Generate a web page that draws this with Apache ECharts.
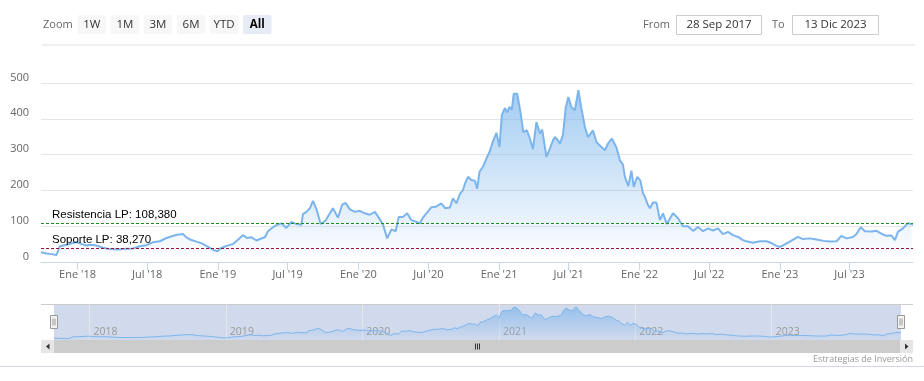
<!DOCTYPE html>
<html><head><meta charset="utf-8">
<script src="https://cdn.jsdelivr.net/npm/echarts@6/dist/echarts.min.js"></script>
<style>html,body{margin:0;padding:0;background:#fff}#c{width:924px;height:381px}</style>
</head><body><div id="c"></div>
<script>
// ---------- DATA ----------
const startDate = '2017-09-28';
const endDate = '2023-12-13';
const dates = ['2017-09-28','2017-10-12','2017-10-26','2017-11-07','2017-11-16','2017-12-03','2017-12-17','2017-12-29','2018-01-12','2018-01-24','2018-02-04','2018-02-19','2018-03-08','2018-03-26','2018-04-16','2018-05-06','2018-05-25','2018-06-12','2018-06-29','2018-07-16','2018-08-03','2018-08-20','2018-09-03','2018-09-16','2018-09-24','2018-10-02','2018-10-11','2018-10-22','2018-11-06','2018-11-20','2018-12-02','2018-12-13','2018-12-24','2019-01-01','2019-01-06','2019-01-23','2019-02-09','2019-02-22','2019-03-07','2019-03-17','2019-03-29','2019-04-11','2019-04-22','2019-05-03','2019-05-11','2019-05-24','2019-06-02','2019-06-15','2019-06-28','2019-07-11','2019-07-24','2019-08-06','2019-08-10','2019-08-19','2019-08-28','2019-09-05','2019-09-14','2019-09-25','2019-10-08','2019-10-19','2019-10-27','2019-11-09','2019-11-20','2019-11-29','2019-12-10','2019-12-23','2020-01-05','2020-01-18','2020-01-31','2020-02-13','2020-02-26','2020-03-05','2020-03-16','2020-03-27','2020-04-07','2020-04-15','2020-04-26','2020-05-07','2020-05-18','2020-05-31','2020-06-09','2020-06-17','2020-06-26','2020-07-09','2020-07-20','2020-08-04','2020-08-14','2020-08-26','2020-09-03','2020-09-12','2020-09-21','2020-09-29','2020-10-06','2020-10-12','2020-10-21','2020-10-30','2020-11-05','2020-11-11','2020-11-20','2020-11-29','2020-12-08','2020-12-16','2020-12-25','2021-01-02','2021-01-08','2021-01-16','2021-01-22','2021-01-28','2021-02-03','2021-02-08','2021-02-17','2021-02-26','2021-03-05','2021-03-14','2021-03-22','2021-03-30','2021-04-08','2021-04-17','2021-04-23','2021-05-04','2021-05-13','2021-05-21','2021-05-26','2021-06-03','2021-06-08','2021-06-16','2021-06-23','2021-06-30','2021-07-08','2021-07-17','2021-07-26','2021-08-03','2021-08-12','2021-08-20','2021-09-02','2021-09-11','2021-09-24','2021-10-03','2021-10-11','2021-10-21','2021-11-02','2021-11-11','2021-11-19','2021-11-24','2021-12-03','2021-12-11','2021-12-17','2021-12-26','2022-01-03','2022-01-10','2022-01-15','2022-01-23','2022-01-28','2022-02-05','2022-02-14','2022-02-23','2022-03-03','2022-03-13','2022-03-29','2022-04-11','2022-04-24','2022-05-07','2022-05-20','2022-06-02','2022-06-15','2022-06-28','2022-07-11','2022-07-24','2022-08-06','2022-08-19','2022-09-01','2022-09-14','2022-09-19','2022-09-27','2022-10-06','2022-10-23','2022-11-10','2022-11-27','2022-12-10','2022-12-23','2022-12-27','2023-01-01','2023-01-14','2023-01-31','2023-02-17','2023-03-02','2023-03-20','2023-04-06','2023-04-24','2023-05-11','2023-05-28','2023-06-10','2023-06-23','2023-07-10','2023-07-19','2023-07-30','2023-08-10','2023-08-27','2023-09-09','2023-09-22','2023-10-05','2023-10-18','2023-10-27','2023-11-04','2023-11-17','2023-11-29','2023-12-08','2023-12-13'];
const values = [27,24,22,19.5,44,48,52,56,50,46,48,46,40,36,35,37,38,44,47,55,58,67,72,76,77,78,69,62,57,52,45,38,32,30,37,45,50,62,75,67,69,60,65,69,86,97,103,108,95,112,106,104,134,140,150,171,148,106,116,136,150,124,160,165,147,140,143,136,132,140,119,105,66,91,86,126,126,136,117,112,108,124,136,153,154,164,150,152,178,164,190,201,224,238,229,227,205,252,266,289,310,337,361,321,410,430,418,433,425,470,470,415,363,368,345,315,391,359,370,294,317,340,349,340,330,355,430,461,433,424,480,428,377,349,368,335,321,312,331,345,320,284,272,238,212,255,210,238,228,192,182,159,150,166,166,117,136,106,136,122,100,100,87,98,86,94,88,94,78,84,75,70,66,61,58,54,58,58,53,45,43,42,49,60,70,64,66,63,59,57,58,73,66,70,78,97,86,85,87,79,73,74,61,85,94,108,106,105];

const xTickDates = ['2018-01-01','2018-07-01','2019-01-01','2019-07-01','2020-01-01','2020-07-01','2021-01-01','2021-07-01','2022-01-01','2022-07-01','2023-01-01','2023-07-01'];
const xTickLabels = ["Ene '18","Jul '18","Ene '19","Jul '19","Ene '20","Jul '20","Ene '21","Jul '21","Ene '22","Jul '22","Ene '23","Jul '23"];
const navYearDates = ['2018-01-01','2019-01-01','2020-01-01','2021-01-01','2022-01-01','2023-01-01'];
const navYearLabels = ['2018','2019','2020','2021','2022','2023'];
const yMin = 0, yMax = 500, yStep = 100;

const resistencia = 108.38, resistenciaLabel = 'Resistencia LP: 108,380';
const soporte = 38.27, soporteLabel = 'Soporte LP: 38,270';

const zoomLabel = 'Zoom';
const zoomButtons = ['1W','1M','3M','6M','YTD','All'];
const selectedButton = 'All';
const fromLabel = 'From', toLabel = 'To';
const fromText = '28 Sep 2017', toText = '13 Dic 2023';
const creditText = 'Estrategias de Inversión';

// ---------- CHART ----------
const P = (s) => Date.UTC(+s.slice(0, 4), +s.slice(5, 7) - 1, +s.slice(8, 10));
const xTickTs = xTickDates.map(P);
const navTs = navYearDates.map(P);
const seriesData = dates.map((d, i) => [P(d), values[i]]);
const lookup = (ts, labels) => (v) => {
  const i = ts.findIndex(t => Math.abs(t - v) < 43200000);
  return i >= 0 ? labels[i] : '';
};
const blue = '#7cb5ec';
const grad = () => new echarts.graphic.LinearGradient(0, 0, 0, 1, [
  {offset: 0, color: 'rgba(124,181,236,1)'},
  {offset: 1, color: 'rgba(124,181,236,0)'}
]);
const UI = '"Open Sans", sans-serif';

const graphics = [];
graphics.push({type:'text', x: 43, y: 25, style:{text: zoomLabel, fill:'#666', font:'11px ' + UI, align:'left', verticalAlign:'middle'}, silent:true});
zoomButtons.forEach((b, i) => {
  const x = 77.5 + i * 33.1;
  const sel = b === selectedButton;
  graphics.push({type:'rect', shape:{x: x, y: 15, width:28.5, height:19, r:2}, style:{fill: sel ? '#e6ebf5' : '#f7f7f7'}, silent:true});
  graphics.push({type:'text', x: x + 14.25, y: 24.5, style:{text: b, fill: sel ? '#000' : '#333', font: (sel ? 'bold ' : '') + '11.5px ' + UI, align:'center', verticalAlign:'middle'}, silent:true});
});
graphics.push({type:'line', shape:{x1:42, y1:45, x2:915, y2:45}, style:{stroke:'#f0f0f0', lineWidth:2}, silent:true});
graphics.push({type:'text', x: 643, y: 24.5, style:{text: fromLabel, fill:'#666', font:'11px ' + UI, align:'left', verticalAlign:'middle'}, silent:true});
graphics.push({type:'rect', shape:{x:676.5, y:15.5, width:85, height:19}, style:{fill:'#fff', stroke:'#cccccc', lineWidth:1}, silent:true});
graphics.push({type:'text', x: 719, y: 24.5, style:{text: fromText, fill:'#333', font:'11.5px ' + UI, align:'center', verticalAlign:'middle'}, silent:true});
graphics.push({type:'text', x: 772, y: 24.5, style:{text: toLabel, fill:'#666', font:'11px ' + UI, align:'left', verticalAlign:'middle'}, silent:true});
graphics.push({type:'rect', shape:{x:792.5, y:15.5, width:86, height:19}, style:{fill:'#fff', stroke:'#cccccc', lineWidth:1}, silent:true});
graphics.push({type:'text', x: 835.5, y: 24.5, style:{text: toText, fill:'#333', font:'11.5px ' + UI, align:'center', verticalAlign:'middle'}, silent:true});
graphics.push({type:'rect', z: -1, shape:{x:54, y:304, width:847, height:36}, style:{fill:'rgba(102,133,194,0.3)'}, silent:true});
graphics.push({type:'line', shape:{x1:41, y1:304.5, x2:913, y2:304.5}, style:{stroke:'#cccccc', lineWidth:1}, silent:true});
graphics.push({type:'rect', shape:{x:41, y:340, width:872, height:13}, style:{fill:'#f2f2f2'}, silent:true});
graphics.push({type:'rect', shape:{x:54, y:340, width:847, height:13}, style:{fill:'#cccccc'}, silent:true});
graphics.push({type:'rect', shape:{x:41, y:340, width:13, height:13}, style:{fill:'#e6e6e6'}, silent:true});
graphics.push({type:'rect', shape:{x:900, y:340, width:13, height:13}, style:{fill:'#e6e6e6'}, silent:true});
graphics.push({type:'polygon', shape:{points:[[49.5,343.5],[49.5,349.5],[46,346.5]]}, style:{fill:'#333'}, silent:true});
graphics.push({type:'polygon', shape:{points:[[905,343.5],[905,349.5],[908.5,346.5]]}, style:{fill:'#333'}, silent:true});
[475.5, 477.5, 479.5].forEach(x => graphics.push({type:'line', shape:{x1:x, y1:343.5, x2:x, y2:349.5}, style:{stroke:'#333', lineWidth:1}, silent:true}));
[54, 901].forEach(cx => {
  graphics.push({type:'rect', z: 10, shape:{x:cx - 3.5, y:315.5, width:7, height:13}, style:{fill:'#f2f2f2', stroke:'#999', lineWidth:1}, silent:true});
  [cx - 1, cx + 1].forEach(x => graphics.push({type:'line', z: 11, shape:{x1:x, y1:318.5, x2:x, y2:325.5}, style:{stroke:'#999', lineWidth:1}, silent:true}));
});
graphics.push({type:'text', x: 913, y: 359, style:{text: creditText, fill:'#999', font:'9px ' + UI, align:'right', verticalAlign:'middle'}, silent:true});
graphics.push({type:'line', shape:{x1:0, y1:366.5, x2:924, y2:366.5}, style:{stroke:'#d6d6e6', lineWidth:1}, silent:true});

const option = {
  animation: false,
  backgroundColor: '#fff',
  grid: [
    {left: 41, right: 11, top: 83, height: 179, containLabel: false},
    {left: 54, right: 23, top: 304, height: 36, containLabel: false}
  ],
  xAxis: [
    {gridIndex: 0, type: 'value', min: P(startDate), max: P(endDate),
     axisLine: {show: true, lineStyle: {color: '#ccd6eb', width: 1}},
     axisTick: {show: true, customValues: xTickTs, length: 8, lineStyle: {color: '#ccd6eb'}},
     axisLabel: {customValues: xTickTs, formatter: lookup(xTickTs, xTickLabels), color: '#666', fontSize: 11, fontFamily: UI, margin: 7, hideOverlap: false, showMinLabel: true, showMaxLabel: true},
     splitLine: {show: false}},
    {gridIndex: 1, type: 'value', min: P(startDate), max: P(endDate),
     axisLine: {show: false},
     axisTick: {show: false, customValues: navTs},
     axisLabel: {inside: true, customValues: navTs, formatter: lookup(navTs, navYearLabels), color: '#999', fontSize: 10.5, fontFamily: UI, align: 'left', padding: [0, 0, 0, 4], margin: 2, hideOverlap: false},
     splitLine: {show: true, lineStyle: {color: '#e6e6e6', width: 1}}}
  ],
  yAxis: [
    {gridIndex: 0, type: 'value', min: yMin, max: yMax, interval: yStep,
     axisLine: {show: false}, axisTick: {show: false},
     axisLabel: {color: '#666', fontSize: 11, fontFamily: UI, margin: 12, verticalAlign: 'bottom'},
     splitLine: {lineStyle: {color: '#e6e6e6'}}},
    {gridIndex: 1, type: 'value', min: 0, max: 520,
     axisLine: {show: false}, axisTick: {show: false}, axisLabel: {show: false}, splitLine: {show: false}}
  ],
  series: [
    {type: 'line', xAxisIndex: 0, yAxisIndex: 0, data: seriesData, showSymbol: false, symbol: 'none',
     lineStyle: {color: blue, width: 2}, itemStyle: {color: blue},
     areaStyle: {color: grad(), origin: 'start'},
     markLine: {silent: true, symbol: ['none', 'none'],
       data: [
         {yAxis: resistencia, lineStyle: {color: '#1c8c1c', type: [3, 2], width: 1},
          label: {formatter: resistenciaLabel}},
         {yAxis: soporte, lineStyle: {color: '#9b1030', type: [3, 2], width: 1},
          label: {formatter: soporteLabel}}
       ],
       label: {show: true, position: 'insideStartTop', distance: [11, 2], color: '#000', fontSize: 11.5, fontFamily: '"Liberation Sans", Arial, sans-serif'}
     }},
    {type: 'line', xAxisIndex: 1, yAxisIndex: 1, data: seriesData, showSymbol: false, symbol: 'none',
     lineStyle: {color: blue, width: 1}, itemStyle: {color: blue},
     areaStyle: {color: grad(), origin: 'start'}}
  ],
  graphic: {elements: graphics}
};
const chart = echarts.init(document.getElementById('c'));
chart.setOption(option);
</script>
</body></html>
